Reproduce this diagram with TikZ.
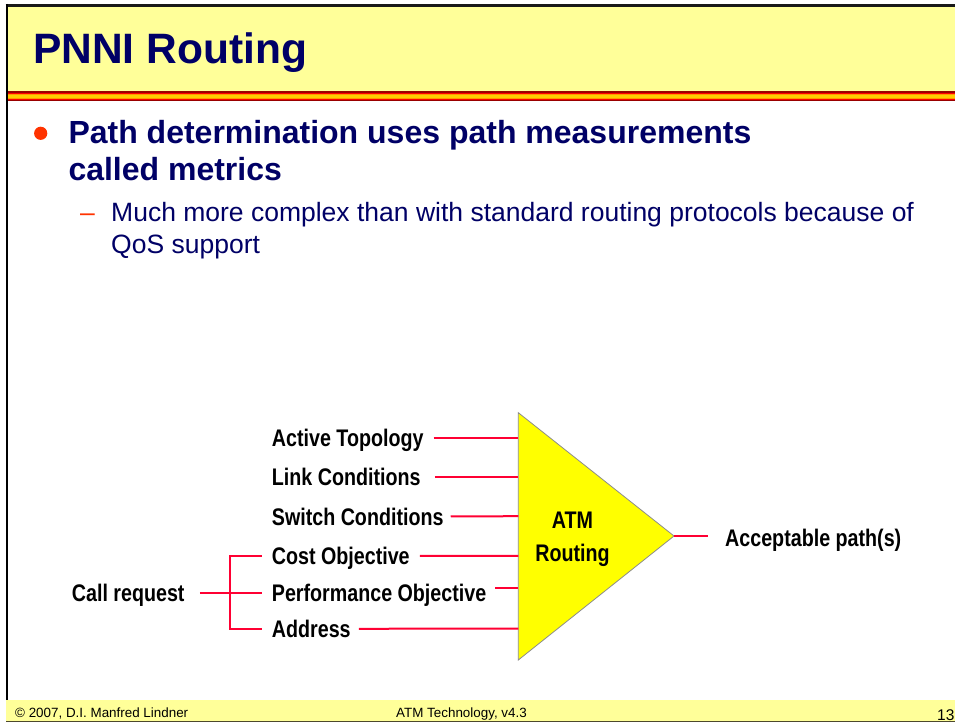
\documentclass[tikz,border=0pt]{standalone}
\usepackage{fontspec}
\setmainfont{Liberation Sans}
\newfontfamily\lblfont{Liberation Sans}[FakeStretch=0.82]
\definecolor{navy}{HTML}{000066}
\definecolor{hdryellow}{HTML}{FFFF99}
\definecolor{wirered}{HTML}{FF0033}
\definecolor{dotred}{HTML}{FF3300}
\definecolor{darkred}{HTML}{990000}
\definecolor{barorange}{HTML}{FF9900}
\definecolor{baryellow}{HTML}{FFCC00}
\definecolor{trifill}{HTML}{FFFF00}

\begin{document}
\begin{tikzpicture}[x=1pt,y=-1pt,
  lbl/.style={font=\lblfont\bfseries\fontsize{24}{28}\selectfont,
    text height=17.2pt, text depth=0pt, inner sep=0pt, anchor=west},
  wire/.style={draw=wirered, line width=2pt},
  heading/.style={font=\bfseries\fontsize{42.5}{50}\selectfont, text=navy, inner sep=0pt, anchor=base west},
  mainpt/.style={font=\bfseries\fontsize{32}{38}\selectfont, text=navy, inner sep=0pt, anchor=base west},
  subpt/.style={font=\fontsize{26.5}{31.6}\selectfont, text=navy, inner sep=0pt, anchor=base west},
  foot/.style={font=\fontsize{13.4}{16}\selectfont, text=black, inner sep=0pt, anchor=base west}]
\useasboundingbox (0,0) rectangle (955,722);
\fill[white] (0,0) rectangle (955,722);

% header band
\fill[hdryellow] (7,6.5) rectangle (955,91.7);
\fill[darkred]   (8,91.5) rectangle (955,92.6);
\fill[red]       (8,92.6) rectangle (955,94.0);
\fill[barorange] (8,94.0) rectangle (955,95.4);
\fill[baryellow] (8,95.4) rectangle (955,97.6);
\fill[barorange] (8,97.6) rectangle (955,99.0);
\fill[red]       (8,99.0) rectangle (955,100.2);
\fill[darkred]   (8,100.2) rectangle (955,101.3);

% footer band
\fill[hdryellow] (6,700) rectangle (955,721);
\draw[black!60!olive, line width=1.2pt] (6,721.4) -- (955,721.4);

% frame
\draw[black!90, line width=2.7pt] (5.7,5.3) -- (955,5.3);
\draw[black, line width=2.4pt] (7,4) -- (7,700);

% title
\node[heading] (title) at (33,63.3) {PNNI Routing};

% bullet text
\fill[dotred] (40.7,133.3) circle (6.6);
\node[mainpt] (b1a) at (68.3,143.3) {Path determination uses path measurements};
\node[mainpt] (b1b) at (68.3,181) {called metrics};
\node[subpt, text=dotred] (dash) at (80,221.7) {–};
\node[subpt] (s1a) at (111,221.7) {Much more complex than with standard routing protocols because of};
\node[subpt] (s1b) at (111,253.3) {QoS support};

% routing block
\coordinate (tl) at (518.3,412.7);
\coordinate (ap) at (674,536);
\coordinate (bl) at (518.3,660);
\draw[fill=trifill, draw=black!45, line width=0.8pt] (tl) -- (ap) -- (bl) -- cycle;
\node[font=\lblfont\bfseries\fontsize{24}{32.7}\selectfont, align=center, inner sep=0pt]
  (atm) at (572.5,539.2) {ATM\\Routing};

% inputs
\node[lbl] (t1) at (271.7,438.3) {Active Topology};
\node[lbl] (t2) at (271.7,476.8) {Link Conditions};
\node[lbl] (t3) at (271.7,516.4) {Switch Conditions};
\node[lbl] (t4) at (271.7,555.9) {Cost Objective};
\node[lbl] (t5) at (271.7,593.2) {Performance Objective};
\node[lbl] (t6) at (271.7,628.8) {Address};
\node[lbl] (call) at (71.7,592.5) {Call request};
\node[lbl] (acc) at (725,537.5) {Acceptable path(s)};

\coordinate (in1) at (518.3,438.3);
\coordinate (in2) at (518.3,476.8);
\coordinate (in3) at (518.3,516.2);
\coordinate (in4) at (518.3,555.8);
\coordinate (in5) at (518.3,588.3);
\coordinate (in6) at (518.3,628.5);

\draw[wire] ([xshift=10]t1.east) -- (in1);
\draw[wire] ([xshift=14]t2.east) -- (in2);
\draw[wire] ([xshift=7]t3.east) -- (in3);
\draw[wire] ([xshift=10]t4.east) -- (in4);
\draw[wire] ([xshift=9]t5.east |- in5) -- (in5);
\draw[wire] ([xshift=8]t6.east) -- (in6);

% call request fan-out
\draw[wire] ([xshift=-10]t4.west) -- ++(-31.4,0) |- ([xshift=-10]t6.west);
\draw[wire] ([xshift=15]call.east) -- ([xshift=-10]call.east -| t5.west);

% output
\draw[wire] (ap) -- ([xshift=-16.7]acc.west |- ap);

% footer text
\node[foot] (f1) at (15,717) {© 2007, D.I. Manfred Lindner};
\node[foot] (f2) at (396,717) {ATM Technology, v4.3};
\node[foot, font=\fontsize{15.5}{18}\selectfont] (f3) at (937,720.5) {13};
\end{tikzpicture}
\end{document}
